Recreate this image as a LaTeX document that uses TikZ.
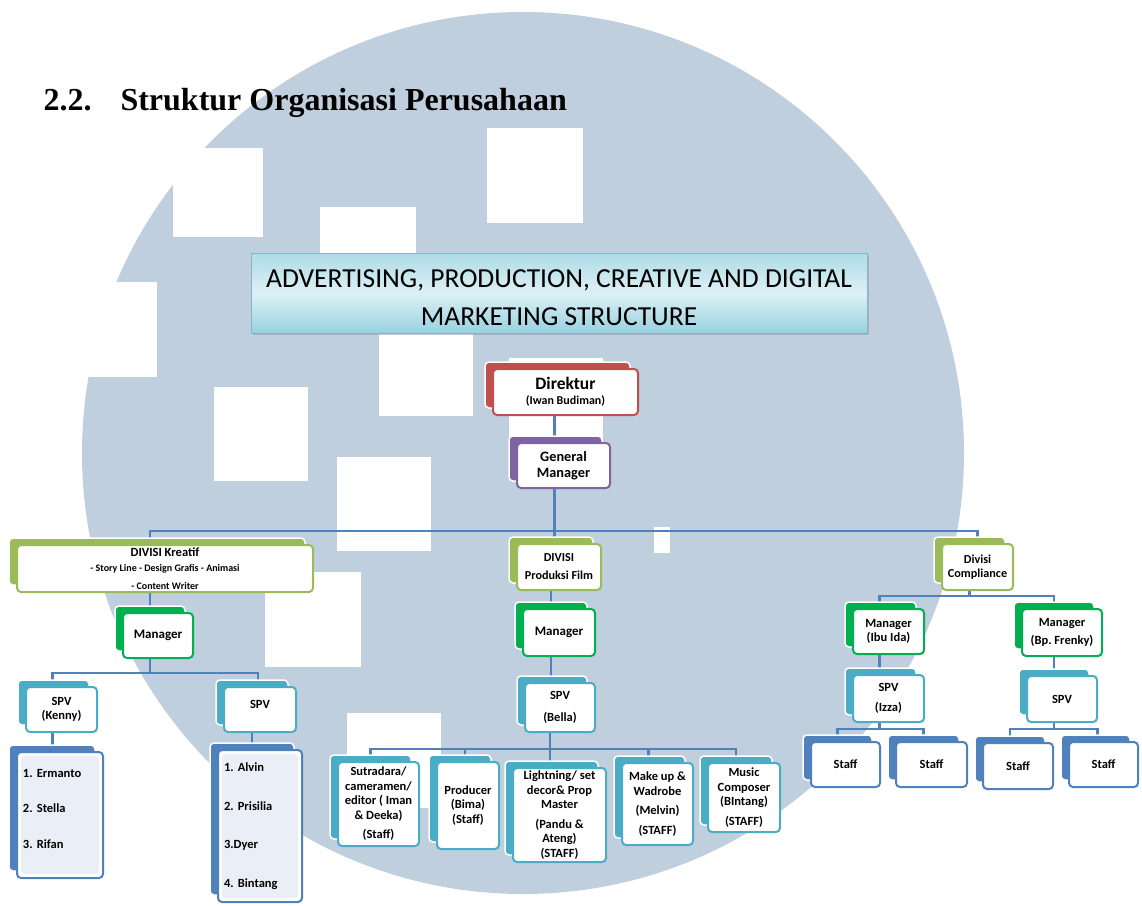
\documentclass[tikz,border=0pt]{standalone}
\usepackage{fontspec}
\setmainfont{Carlito}
\newfontfamily\headfont{Liberation Serif}
\usetikzlibrary{calc, shadows}
\frenchspacing

\definecolor{ringblue}{HTML}{BFCFDD}
\definecolor{linkblue}{HTML}{4F81BD}
\definecolor{dirred}{HTML}{C0504D}
\definecolor{gmpurple}{HTML}{8064A2}
\definecolor{divolive}{HTML}{9BBB59}
\definecolor{mgrgreen}{HTML}{00B050}
\definecolor{spvaqua}{HTML}{4BACC6}
\definecolor{staffblue}{HTML}{4F81BD}
\definecolor{listfill}{HTML}{EAEFF7}
\definecolor{bannertop}{HTML}{AEDBE7}
\definecolor{bannermid}{HTML}{DDF0F5}
\definecolor{bannerbot}{HTML}{98D1E0}
\definecolor{bannerline}{HTML}{7FB8C9}

\newcommand{\fsz}[2]{\fontsize{#1}{#2}\selectfont}

\pgfdeclarelayer{back}
\pgfdeclarelayer{links}
\pgfsetlayers{back,links,main}

\begin{document}
\begin{tikzpicture}[x=1pt, y=-1pt,
  card/.style={draw=#1, line width=2pt, fill=white, rounded corners=4pt,
    align=center, inner sep=2pt, font=\bfseries\fsz{12.5}{14.5},
    general shadow={shadow xshift=-8pt, shadow yshift=7pt, fill=#1,
      draw=white, line width=1.5pt}},
  listcard/.style={card=staffblue, align=left, inner xsep=6pt,
    path picture={\fill[listfill]
      ([shift={(4pt,-4pt)}]path picture bounding box.north west) rectangle
      ([shift={(-4pt,4pt)}]path picture bounding box.south east);}},
  link/.style={draw=linkblue, line width=2.2pt}]
\useasboundingbox (0,0) rectangle (1142,905);

% Watermark circle with white squares
\begin{pgfonlayer}{back}
\fill[white] (0,0) rectangle (1142,905);
\fill[ringblue] (523,453) circle (441pt);
\fill[white] (173,148) rectangle (263,237);
\fill[white] (320,207) rectangle (416,300);
\fill[white] (60,282) rectangle (157,377);
\fill[white] (487,128) rectangle (583,223);
\fill[white] (214,387) rectangle (308,481);
\fill[white] (379,322) rectangle (473,416);
\fill[white] (337,457) rectangle (431,551);
\fill[white] (265,572) rectangle (361,667);
\fill[white] (347,713) rectangle (441,808);
\fill[white] (509,358) rectangle (603,452);
\fill[white] (654,527) rectangle (670,553);
\end{pgfonlayer}

% Heading and banner
\node[anchor=base west, font=\headfont\bfseries\fsz{32}{36}] (secnum) at (40,110) {2.2.};
\node[anchor=base west, font=\headfont\bfseries\fsz{32}{36}] (heading) at (117,110) {Struktur Organisasi Perusahaan};
\node[draw=bannerline, line width=1pt, top color=bannertop, bottom color=bannerbot,
  middle color=bannermid, minimum width=616, minimum height=80, align=center,
  font=\fsz{27.5}{38},
  drop shadow={shadow xshift=2pt, shadow yshift=-2pt, fill=black!40, opacity=.5}]
  (banner) at (559,293) {\mbox{}\\[-11pt]ADVERTISING, PRODUCTION, CREATIVE AND DIGITAL\\MARKETING STRUCTURE};

% Top of the chart
\node[card=dirred, minimum width=145, minimum height=46] (dir) at (565.5,392)
  {{\fsz{17.5}{18}Direktur}\\{\fsz{12}{13}(Iwan Budiman)}};
\node[card=gmpurple, minimum width=93, minimum height=45, font=\bfseries\fsz{14.3}{16.5}] (gm) at (563.5,465.5)
  {General\\Manager};

% Divisions
\node[card=divolive, minimum width=296, minimum height=47] (kreatif) at (165,568.5)
  {{\fsz{12.5}{13}DIVISI Kreatif}\\[1pt]{\fsz{10}{11}- Story Line - Design Grafis - Animasi}\\[3pt]{\fsz{10}{11}- Content Writer}};
\node[card=divolive, minimum width=84, minimum height=46, font=\bfseries\fsz{12.2}{14}] (produksi) at (559,567)
  {DIVISI\\[4pt]Produksi Film};
\node[card=divolive, minimum width=71, minimum height=46, font=\bfseries\fsz{12.2}{14}] (compliance) at (977.5,567)
  {Divisi\\Compliance};

% Divisi Kreatif
\node[card=mgrgreen, minimum width=70, minimum height=45, font=\bfseries\fsz{13}{14}] (kmgr) at (158,635.5) {Manager};
\node[card=spvaqua, minimum width=71, minimum height=45] (kspv1) at (61.5,709.5) {SPV\\(Kenny)};
\node[card=spvaqua, minimum width=72, minimum height=45] (kspv2) at (260,709.5) {SPV\\[-8pt]\strut};
\node[listcard, text width=74, minimum height=126] (klist1) at (60,815)
  {1. Ermanto\\[21pt]2. Stella\\[21pt]3. Rifan\\[-6pt]\strut};
\node[listcard, text width=72, minimum height=152] (klist2) at (260,826)
  {1. Alvin\\[24pt]2. Prisilia\\[24pt]3.Dyer\\[24pt]4. Bintang};

% Divisi Produksi Film
\node[card=mgrgreen, minimum width=72, minimum height=47, font=\bfseries\fsz{13}{14}] (pmgr) at (559,632.5) {Manager};
\node[card=spvaqua, minimum width=70, minimum height=49] (pspv) at (560,707.5) {SPV\\[8pt](Bella)};
\node[card=spvaqua, minimum width=81, minimum height=84] (ps1) at (378.5,804)
  {Sutradara/\\cameramen/\\editor ( Iman\\\& Deeka)\\[5pt](Staff)};
\node[card=spvaqua, minimum width=62, minimum height=87] (ps2) at (468,805.5)
  {Producer\\(Bima)\\(Staff)};
\node[card=spvaqua, minimum width=93, minimum height=94] (ps3) at (559.5,815)
  {Lightning/ set\\decor\& Prop\\Master\\[5pt](Pandu \&\\Ateng)\\(STAFF)};
\node[card=spvaqua, minimum width=71, minimum height=82] (ps4) at (657.5,804)
  {Make up \&\\Wadrobe\\[5pt](Melvin)\\[5pt](STAFF)};
\node[card=spvaqua, minimum width=72, minimum height=69] (ps5) at (744,797.5)
  {Music\\Composer\\(BIntang)\\[5pt](STAFF)};

% Divisi Compliance
\node[card=mgrgreen, minimum width=71, minimum height=45] (cmgr1) at (888.5,631.5) {Manager\\(Ibu Ida)};
\node[card=mgrgreen, minimum width=80, minimum height=47] (cmgr2) at (1062,632.5) {Manager\\[4pt](Bp. Frenky)};
\node[card=spvaqua, minimum width=71, minimum height=47] (cspv1) at (888.5,698.5) {SPV\\[5pt](Izza)};
\node[card=spvaqua, minimum width=70, minimum height=46] (cspv2) at (1062,699) {SPV};
\node[card=staffblue, minimum width=69, minimum height=45] (cs1) at (845.5,764.5) {Staff};
\node[card=staffblue, minimum width=71, minimum height=45] (cs2) at (931.5,764.5) {Staff};
\node[card=staffblue, minimum width=70, minimum height=46] (cs3) at (1018,766) {Staff};
\node[card=staffblue, minimum width=69, minimum height=45] (cs4) at (1103.5,764.5) {Staff};

% Connectors
\begin{pgfonlayer}{links}
\draw[link] ([xshift=-11pt]dir.south) -- ([xshift=-11pt]dir.south |- gm.north);
\draw[link] ([xshift=-9pt]gm.south) -- ++(0,42) coordinate (mainbus);
\draw[link] ([xshift=-15pt]kreatif.north) |- (mainbus) -| (compliance.north);
\draw[link] (mainbus) -- (mainbus |- produksi.north);
% kreatif
\draw[link] ([xshift=-15pt]kreatif.south) -- ([xshift=-15pt]kreatif.south |- kmgr.north);
\draw[link] ([xshift=-8pt]kmgr.south) -- ++(0,14) coordinate (kbus);
\draw[link] ([xshift=-9pt]kspv1.north) |- (kbus) -| ([xshift=-2pt]kspv2.north);
\draw[link] ([xshift=-9pt]kspv1.south) -- ([xshift=-9pt]kspv1.south |- klist1.north);
\draw[link] ([xshift=-8pt]kspv2.south) -- ([xshift=-8pt]kspv2.south |- klist2.north);
% produksi
\draw[link] ([xshift=-8pt]produksi.south) -- ([xshift=-8pt]produksi.south |- pmgr.north);
\draw[link] ([xshift=-8pt]pmgr.south) -- ([xshift=-8pt]pmgr.south |- pspv.north);
\draw[link] ([xshift=-10pt]pspv.south) -- ++(0,16) coordinate (pbus);
\draw[link] ([xshift=-8pt]ps1.north) |- (pbus) -| ([xshift=-8pt]ps5.north);
\draw[link] ([xshift=-3pt]ps2.north) -- ([xshift=-3pt]ps2.north |- pbus);
\draw[link] (pbus) -- (pbus |- ps3.north);
\draw[link] ([xshift=-9pt]ps4.north) -- ([xshift=-9pt]ps4.north |- pbus);
% compliance
\draw[link] ([xshift=-8pt]compliance.south) -- ++(0,5) coordinate (cbus);
\draw[link] ([xshift=-9pt]cmgr1.north) |- (cbus) -| ([xshift=-8pt]cmgr2.north);
\draw[link] ([xshift=-9pt]cmgr1.south) -- ([xshift=-9pt]cmgr1.south |- cspv1.north);
\draw[link] ([xshift=-8pt]cmgr2.south) -- ([xshift=-8pt]cmgr2.south |- cspv2.north);
\draw[link] ([xshift=-9pt]cspv1.south) -- ++(0,6) coordinate (cbusl);
\draw[link] ([xshift=-8pt]cs1.north) |- (cbusl) -| ([xshift=-8pt]cs2.north);
\draw[link] ([xshift=-8pt]cspv2.south) -- ++(0,6) coordinate (cbusr);
\draw[link] ([xshift=-8pt]cs3.north) |- (cbusr) -| ([xshift=-6pt]cs4.north);
\end{pgfonlayer}
\end{tikzpicture}
\end{document}
